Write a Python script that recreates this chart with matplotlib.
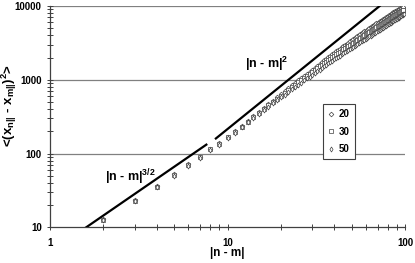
import matplotlib
matplotlib.use("Agg")
import matplotlib.pyplot as plt
from matplotlib.ticker import LogLocator, NullFormatter, FixedLocator, FixedFormatter

plt.rcParams['font.family'] = ['Liberation Sans', 'DejaVu Sans']
plt.rcParams['mathtext.fontset'] = 'custom'
plt.rcParams['mathtext.rm'] = 'Liberation Sans:bold'
plt.rcParams['mathtext.bf'] = 'Liberation Sans:bold'
plt.rcParams['mathtext.it'] = 'Liberation Sans:bold'

# ---------------- data ----------------
n_20 = list(range(2, 98))
v_20 = [12.8, 23.2, 36.2, 52, 71.5, 91, 117, 138, 169, 200,
        233, 274, 318, 365, 414, 466, 521, 579, 640, 703, 769, 837, 908, 981,
        1056, 1133, 1212, 1293, 1377, 1463, 1550, 1640, 1732, 1825, 1921, 2018,
        2117, 2218, 2320, 2424, 2530, 2637, 2745, 2855, 2967, 3079, 3193, 3309,
        3425, 3543, 3661, 3781, 3902, 4023, 4146, 4269, 4393, 4518, 4644, 4770,
        4897, 5025, 5153, 5281, 5410, 5539, 5669, 5799, 5929, 6064, 6200, 6336,
        6473, 6609, 6746, 6884, 7021, 7158, 7296, 7440, 7585, 7729, 7874, 8020,
        8165, 8311, 8456, 8602, 8748, 8894, 9040, 9194, 9340, 9485, 9640, 9785]

n_30 = list(range(2, 99))
v_30 = [12.6, 22.8, 35.5, 51, 70, 89, 114, 135, 165, 195,
        230, 269, 310, 353, 399, 448, 499, 552, 608, 666, 726, 788, 852, 919,
        987, 1057, 1129, 1203, 1278, 1355, 1434, 1514, 1595, 1678, 1763, 1848,
        1935, 2023, 2112, 2204, 2297, 2391, 2486, 2582, 2679, 2777, 2875, 2975,
        3075, 3178, 3283, 3388, 3493, 3600, 3707, 3814, 3922, 4031, 4140, 4253,
        4367, 4481, 4596, 4711, 4826, 4942, 5059, 5175, 5292, 5414, 5537, 5659,
        5783, 5906, 6030, 6154, 6279, 6403, 6528, 6659, 6791, 6923, 7056, 7189,
        7322, 7455, 7589, 7723, 7857, 7991, 8125, 8260, 8394, 8529, 8663, 8797,
        8932]

n_50 = list(range(2, 100))
v_50 = [12.4, 22.4, 34.8, 50, 68.5, 87, 111, 132, 161, 190,
        228, 264, 302, 342, 385, 430, 477, 526, 576, 629, 683, 740, 797, 856,
        917, 978, 1041, 1105, 1170, 1238, 1307, 1376, 1447, 1519, 1591, 1665,
        1739, 1813, 1888, 1967, 2046, 2126, 2207, 2288, 2370, 2452, 2534, 2617,
        2700, 2788, 2877, 2966, 3056, 3146, 3236, 3327, 3418, 3509, 3600, 3695,
        3790, 3886, 3981, 4077, 4173, 4269, 4365, 4461, 4557, 4663, 4769, 4876,
        4983, 5091, 5198, 5306, 5415, 5523, 5632, 5741, 5850, 5959, 6068, 6177,
        6287, 6396, 6505, 6614, 6723, 6848, 6974, 7101, 7228, 7355, 7483, 7612,
        7741, 7870]

# reference power-law guide lines (end points)
line32_x = [1.6, 7.6]
line32_y = [10, 132]
line2_x = [8.6, 72]
line2_y = [160, 10000]

series_labels = ['20', '30', '50']
x_ticks = [1, 10, 100]
x_ticklabels = ['1', '10', '100']
y_ticks = [10, 100, 1000, 10000]
y_ticklabels = ['10', '100', '1000', '10000']

# ---------------- plot ----------------
fig = plt.figure(figsize=(4.15, 2.63), dpi=100)
ax = fig.add_axes([50/415, 1-227.3/263, 355/415, 221.3/263])
ax.set_xscale('log')
ax.set_yscale('log')
ax.set_xlim(1, 100)
ax.set_ylim(10, 10000)

for yt in y_ticks[1:]:
    ax.axhline(yt, color='#808080', lw=0.9, zorder=0)

ax.plot(line32_x, line32_y, color='black', lw=1.6, zorder=3)
ax.plot(line2_x, line2_y, color='black', lw=1.6, zorder=3)

mk = dict(ls='none', mfc='white', mec='#404040', mew=0.5, zorder=4)
ax.plot(n_20, v_20, marker='D', ms=2.4, label=series_labels[0], **mk)
ax.plot(n_30, v_30, marker='s', ms=2.4, label=series_labels[1], **mk)
ax.plot(n_50, v_50, marker='d', ms=2.6, label=series_labels[2], **mk)

ax.text(12.5, 1645, r'$|$n - m$|^{2}$', fontsize=9, fontweight='bold',
        ha='left', va='center')
ax.text(2.03, 48.2, r'$|$n - m$|^{3/2}$', fontsize=9, fontweight='bold',
        ha='left', va='center')

ax.xaxis.set_major_locator(FixedLocator(x_ticks))
ax.xaxis.set_major_formatter(FixedFormatter(x_ticklabels))
ax.yaxis.set_major_locator(FixedLocator(y_ticks))
ax.yaxis.set_major_formatter(FixedFormatter(y_ticklabels))
ax.xaxis.set_minor_locator(LogLocator(base=10, subs=range(2, 10)))
ax.yaxis.set_minor_locator(LogLocator(base=10, subs=range(2, 10)))
ax.xaxis.set_minor_formatter(NullFormatter())
ax.yaxis.set_minor_formatter(NullFormatter())

for s in ['top', 'right']:
    ax.spines[s].set_visible(False)
for s in ['left', 'bottom']:
    ax.spines[s].set_color('#404040')
    ax.spines[s].set_linewidth(0.9)

ax.tick_params(which='both', direction='inout', length=4, width=0.7,
               color='#404040')
ax.tick_params(axis='x', which='major', pad=6, labelsize=7)
ax.tick_params(axis='y', which='major', pad=4, labelsize=7)
for lab in ax.get_xticklabels() + ax.get_yticklabels():
    lab.set_fontweight('bold')

ax.set_xlabel('|n - m|', fontsize=8.5, fontweight='bold')
ax.xaxis.set_label_coords(0.5, -0.09)
ax.set_ylabel(r'<(x$_{\mathbf{n||}}$ - x$_{\mathbf{m||}}$)$^{2}$>', fontsize=9.5,
              fontweight='bold')
ax.yaxis.set_label_coords(-0.086, 0.55)

leg = ax.legend(loc='lower left', bbox_to_anchor=(0.769, 0.307),
                prop={'weight': 'bold', 'size': 7},
                frameon=True, fancybox=False, edgecolor='#404040',
                framealpha=1,
                handlelength=0.6, handletextpad=0.5, labelspacing=0.75,
                borderpad=0.55, borderaxespad=0, markerscale=1.0)
leg.get_frame().set_linewidth(0.8)

fig.savefig('out.png', dpi=100)
